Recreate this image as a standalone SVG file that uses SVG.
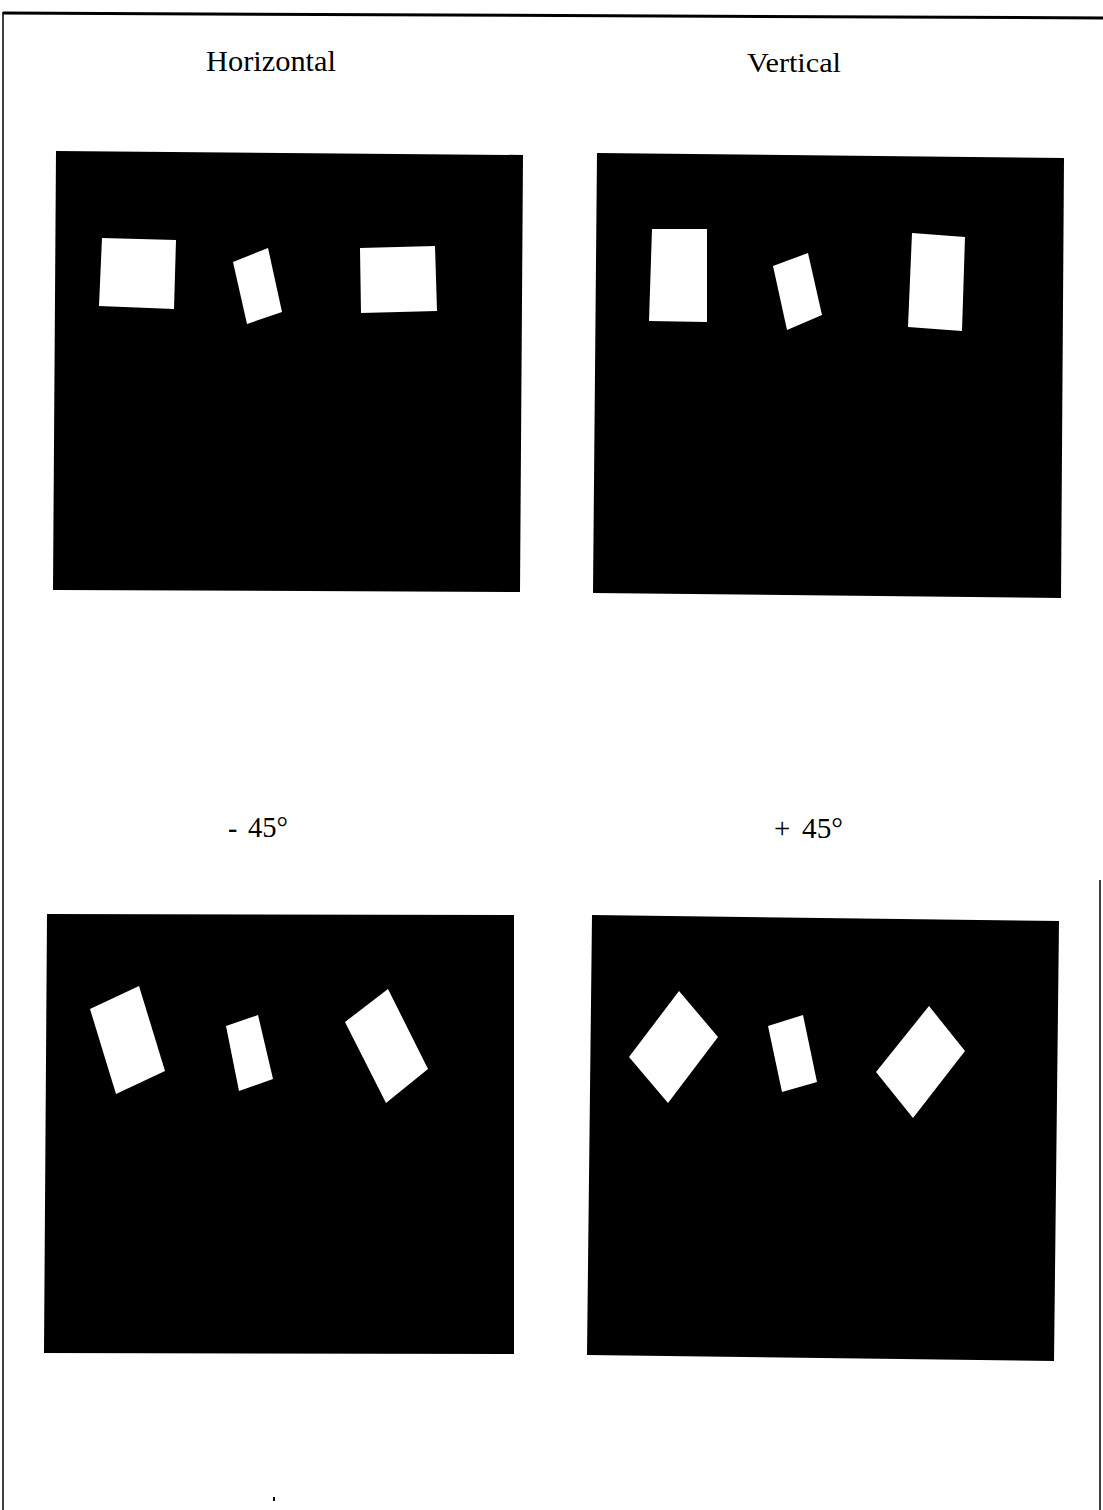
<svg xmlns="http://www.w3.org/2000/svg" width="1103" height="1510" viewBox="0 0 1103 1510">
<style>
.lbl{font-family:"Liberation Serif","Times New Roman",serif;fill:#000}
.panel{fill:#000}
.obj{fill:#fff}
.frame{stroke:#000;fill:none}
</style>
<rect x="0" y="0" width="1103" height="1510" fill="#fff"/>
<g id="frame">
<path class="frame" d="M3,13 L1103,18" stroke-width="3"/>
<path class="frame" d="M3,12 L3,1510" stroke-width="1.5"/>
<path class="frame" d="M1100,880 L1100,1510" stroke-width="1.5"/>
</g>
<g id="labels">
<text class="lbl" x="206" y="71" font-size="30" textLength="130" lengthAdjust="spacingAndGlyphs">Horizontal</text>
<text class="lbl" x="747" y="72" font-size="27" textLength="94" lengthAdjust="spacingAndGlyphs">Vertical</text>
<text class="lbl" x="228" y="837" font-size="28" font-weight="bold">-</text>
<text class="lbl" x="248" y="837" font-size="29" textLength="40" lengthAdjust="spacingAndGlyphs">45°</text>
<text class="lbl" x="774" y="838" font-size="29">+</text>
<text class="lbl" x="802" y="838" font-size="29" textLength="41" lengthAdjust="spacingAndGlyphs">45°</text>
</g>
<g id="panel-horizontal">
<polygon class="panel" points="56,151 523,155 520,592 53,590"/>
<polygon class="obj" points="102,238 176,240 174,309 99,306"/>
<polygon class="obj" points="233,262 268,248 282,312 247,324"/>
<polygon class="obj" points="360,248 435,246 437,311 361,313"/>
</g>
<g id="panel-vertical">
<polygon class="panel" points="597,153 1064,158 1061,598 593,593"/>
<polygon class="obj" points="652,229 707,229 707,322 649,321"/>
<polygon class="obj" points="773,266 808,253 822,315 787,330"/>
<polygon class="obj" points="912,233 965,237 962,331 908,327"/>
</g>
<g id="panel-minus45">
<polygon class="panel" points="47,914 514,915 514,1354 44,1353"/>
<polygon class="obj" points="90,1009 139,986 165,1071 116,1094"/>
<polygon class="obj" points="226,1026 258,1015 273,1079 239,1091"/>
<polygon class="obj" points="345,1022 388,989 428,1069 386,1103"/>
</g>
<g id="panel-plus45">
<polygon class="panel" points="592,915 1059,921 1054,1361 587,1355"/>
<polygon class="obj" points="679,991 718,1037 668,1103 629,1057"/>
<polygon class="obj" points="768,1026 803,1015 817,1082 782,1092"/>
<polygon class="obj" points="929,1006 965,1051 913,1118 876,1072"/>
</g>
<rect x="273" y="1497" width="2" height="4" fill="#000"/>
</svg>
